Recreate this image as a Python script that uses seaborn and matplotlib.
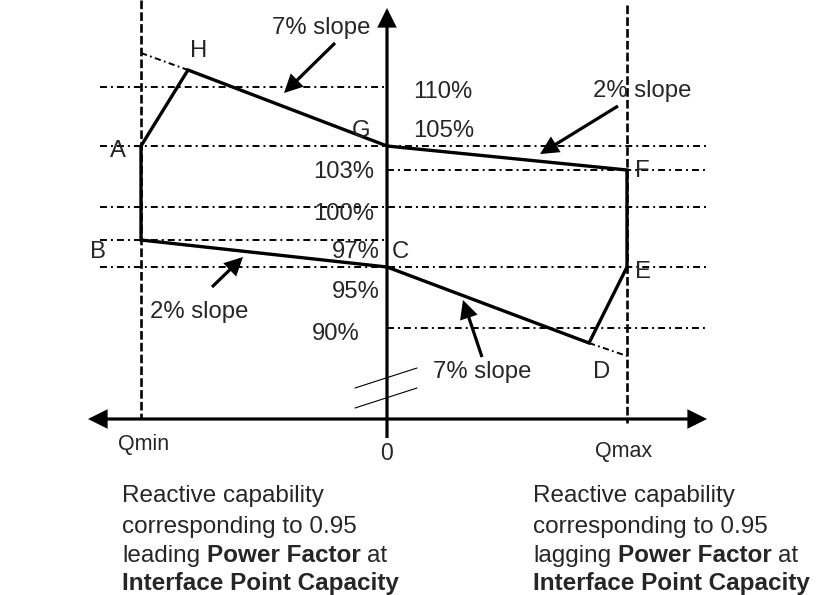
import matplotlib
matplotlib.use("Agg")
import matplotlib.pyplot as plt
import seaborn as sns
from matplotlib.patches import FancyArrowPatch

sns.set_style("white")
plt.rcParams["font.family"] = ["Liberation Sans", "DejaVu Sans"]
plt.rcParams["lines.scale_dashes"] = False

# ---------------- data (schematic diagram units) ----------------
vertex_labels = ["A", "H", "G", "F", "E", "D", "C", "B"]
vertex_q = [141, 188, 387, 627, 627, 589, 387, 141]
vertex_v = [146, 70, 146, 170, 267, 343, 267, 240]
label_q = [110, 190, 352, 635, 635, 593, 392, 90]
label_v = [157, 57, 137, 177, 278, 378, 258, 258]

voltage_labels = ["110%", "105%", "103%", "100%", "97%", "95%", "90%"]
voltage_v = [87, 146, 170, 207, 240, 267, 328]
voltage_q0 = [100, 100, 387, 100, 100, 100, 387]
voltage_q1 = [387, 707, 707, 707, 387, 707, 707]
voltage_label_q = [413, 413, 313, 313, 332, 332, 312]
voltage_label_v = [98, 137, 178, 220, 258, 298, 340]

slope_texts = ["7% slope", "2% slope", "2% slope", "7% slope"]
slope_text_q = [272, 593, 150, 433]
slope_text_v = [34, 97, 318, 378]
slope_tail_q = [335, 618, 212, 482]
slope_tail_v = [43, 106, 287, 357]
slope_tip_q = [284, 540, 243, 463]
slope_tip_v = [93, 154, 257, 300]

q_min, q_zero, q_max = 141, 387, 627
axis_v = 419
q_labels = ["Qmin", "0", "Qmax"]
q_label_q = [118, 380, 595]
q_label_v = [450, 460, 457]

ext_q = [[141, 188], [589, 627]]
ext_v = [[53, 70], [343, 356]]

left_caption = [[("Reactive capability", "normal")],
                [("corresponding to 0.95", "normal")],
                [("leading ", "normal"), ("Power Factor", "bold"), (" at", "normal")],
                [("Interface Point Capacity", "bold")]]
right_caption = [[("Reactive capability", "normal")],
                 [("corresponding to 0.95", "normal")],
                 [("lagging ", "normal"), ("Power Factor", "bold"), (" at", "normal")],
                 [("Interface Point Capacity", "bold")]]
caption_v = [502, 533, 562, 590]
caption_q = [122, 533]

# ---------------- figure ----------------
W, H = 816, 595
fig = plt.figure(figsize=(W / 100, H / 100), dpi=100)
ax = fig.add_axes([0, 0, 1, 1])
ax.set_xlim(0, W)
ax.set_ylim(H, 0)
ax.axis("off")

FS = 17.2
dashdot = (0, (5.0, 2.9, 1.4, 2.9))

# horizontal voltage levels
for v, q0, q1 in zip(voltage_v, voltage_q0, voltage_q1):
    ax.plot([q0, q1], [v, v], color="black", lw=1.4, linestyle=dashdot, zorder=1)

# Qmin / Qmax dashed verticals
ax.plot([q_min, q_min], [0, 418], color="black", lw=1.9, linestyle=(0, (6.2, 2.3)), zorder=1)
ax.plot([q_max, q_max], [5, 423], color="black", lw=1.9, linestyle=(0, (6.2, 2.3)), zorder=1)

# extensions
for qq, vv in zip(ext_q, ext_v):
    ax.plot(qq, vv, color="black", lw=1.4, linestyle=(0, (4.5, 2.4, 1.3, 2.4)), zorder=1)

# capability polygon
poly_q = vertex_q + [vertex_q[0]]
poly_v = vertex_v + [vertex_v[0]]
sns.lineplot(x=poly_q, y=poly_v, sort=False, estimator=None, ax=ax,
             color="black", lw=2.4, zorder=3)
ax.lines[-1].set_solid_joinstyle("miter")

# axes with arrows
def arrow(p0, p1, lw=2.3, ms=26):
    a = FancyArrowPatch(p0, p1, arrowstyle="-|>", mutation_scale=ms, lw=lw,
                        color="black", shrinkA=0, shrinkB=0, zorder=4,
                        joinstyle="miter", capstyle="butt")
    ax.add_patch(a)

arrow((q_zero, 438), (q_zero, 8))
arrow((q_zero, axis_v), (707, axis_v))
arrow((q_zero, axis_v), (88, axis_v))

# slope annotation arrows
for tq, tv, hq, hv in zip(slope_tail_q, slope_tail_v, slope_tip_q, slope_tip_v):
    arrow((tq, tv), (hq, hv), lw=2.3, ms=24)

# break marks
ax.plot([355, 417], [388, 368], color="black", lw=0.8, zorder=4)
ax.plot([355, 417], [408, 388], color="black", lw=0.8, zorder=4)

# texts
for s, q, v in zip(vertex_labels, label_q, label_v):
    ax.text(q, v, s, fontsize=FS, ha="left", va="baseline", zorder=5)
for s, q, v in zip(voltage_labels, voltage_label_q, voltage_label_v):
    ax.text(q, v, s, fontsize=FS, ha="left", va="baseline", zorder=5)
for s, q, v in zip(slope_texts, slope_text_q, slope_text_v):
    ax.text(q, v, s, fontsize=FS, ha="left", va="baseline", zorder=5)
for s, q, v in zip(q_labels, q_label_q, q_label_v):
    ax.text(q, v, s, fontsize=15.5 if s != "0" else 16.5, ha="left", va="baseline", zorder=5)

fig.canvas.draw()
renderer = fig.canvas.get_renderer()
CFS = 17.5
space_w = CFS * 100 / 72 * 0.278

def rich_line(x, y, parts):
    cur = x
    for s, w in parts:
        lead = len(s) - len(s.lstrip(" "))
        trail = len(s) - len(s.rstrip(" "))
        cur += lead * space_w
        t = ax.text(cur, y, s.strip(" "), fontsize=CFS, fontweight=w,
                    ha="left", va="baseline", zorder=5)
        bb = t.get_window_extent(renderer)
        cur += bb.width + trail * space_w

for cap, x0 in zip([left_caption, right_caption], caption_q):
    for parts, v in zip(cap, caption_v):
        rich_line(x0, v, parts)

fig.savefig("out.png", dpi=100)
